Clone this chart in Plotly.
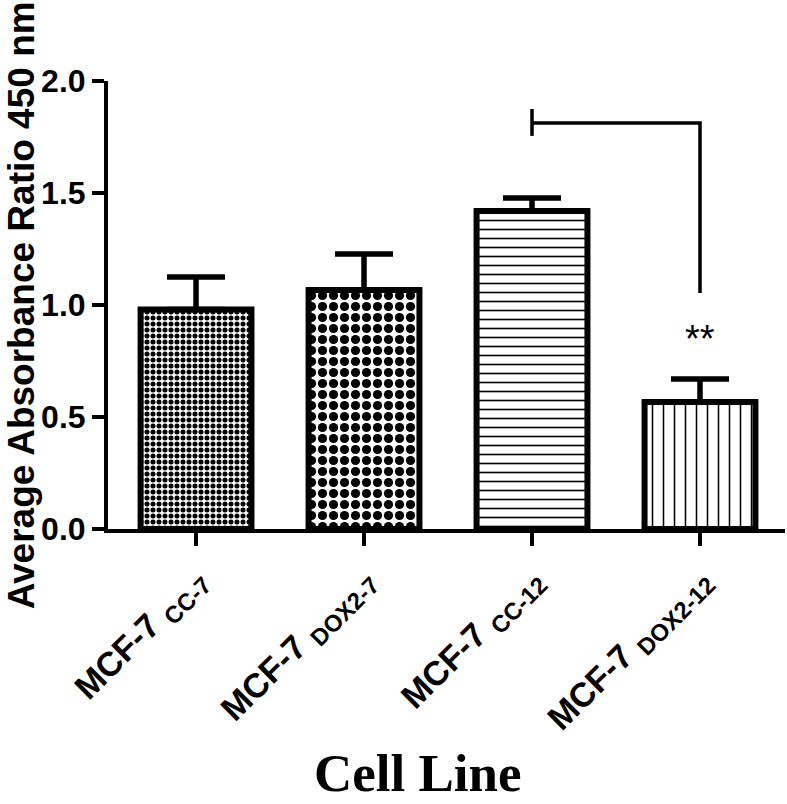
import plotly.graph_objects as go

# valores
lineas = ["CC-7", "DOX2-7", "CC-12", "DOX2-12"]
absorbancia = [0.98, 1.067, 1.42, 0.567]
error_sup = [0.145, 0.161, 0.058, 0.103]
etiquetas = ["MCF-7 <sub>CC-7</sub>", "MCF-7 <sub>DOX2-7</sub>",
             "MCF-7 <sub>CC-12</sub>", "MCF-7 <sub>DOX2-12</sub>"]
patrones = [".", ".", "-", "|"]
tam_patron = [6, 11, 9, 11]
solidez = [0.55, 0.55, 0.18, 0.14]

# corchete de significancia
corchete_x = ["CC-12", "CC-12", None, "CC-12", "DOX2-12", "DOX2-12"]
corchete_y = [1.875, 1.755, None, 1.8125, 1.8125, 1.054]
estrellas_y = 0.85

fig = go.Figure()
fig.add_trace(go.Bar(
    x=lineas, y=absorbancia, width=0.66,
    marker=dict(color="white", line=dict(color="black", width=6),
                pattern=dict(shape=patrones, size=tam_patron, solidity=solidez,
                             fgcolor="black", bgcolor="white", fgopacity=1,
                             fillmode="replace")),
    error_y=dict(type="data", symmetric=False, array=error_sup,
                 arrayminus=[0] * 4, color="black", thickness=5.5, width=29),
    showlegend=False))

fig.add_trace(go.Scatter(x=corchete_x, y=corchete_y, mode="lines",
                         line=dict(color="black", width=3.5), showlegend=False))

fig.add_annotation(x="DOX2-12", y=estrellas_y, text="**", showarrow=False,
                   font=dict(size=38, color="black", family="Liberation Sans"))

fig.add_annotation(xref="paper", yref="paper", x=-0.128, y=0.5,
                   text="<b>Average Absorbance Ratio 450 nm</b>", textangle=-90,
                   showarrow=False, xanchor="center", yanchor="middle",
                   font=dict(size=37, color="black", family="Liberation Sans"))

fig.add_annotation(xref="paper", yref="paper", x=0.458, y=-0.612,
                   text="<b>Cell Line</b>", showarrow=False,
                   xanchor="center", yanchor="bottom", borderpad=0,
                   font=dict(size=53, color="black", family="Liberation Serif"))

fig.update_layout(
    width=787, height=804,
    margin=dict(l=108, r=2, t=81, b=275),
    plot_bgcolor="white", paper_bgcolor="white",
    font=dict(family="Liberation Sans", color="black"),
)
fig.update_xaxes(range=[-0.524, 3.506], tickvals=lineas, ticktext=etiquetas,
                 tickangle=-45, tickfont=dict(size=34, weight="bold"), automargin=False,
                 showline=True, linecolor="black", linewidth=4,
                 ticks="outside", ticklen=13, tickwidth=3.5, tickcolor="black",
                 showgrid=False, zeroline=False)
fig.update_yaxes(range=[0, 2.0], tickvals=[0, 0.5, 1.0, 1.5, 2.0],
                 ticktext=["0.0", "0.5", "1.0", "1.5", "2.0"],
                 tickfont=dict(size=32, weight="bold"), automargin=False,
                 showline=True, linecolor="black", linewidth=4,
                 ticks="outside", ticklen=12, tickwidth=3.5, tickcolor="black",
                 showgrid=False, zeroline=False)

# quitar el margen del body para que la figura quede en (0, 0)
fig.write_html("out.html", config={"displayModeBar": False},
               post_script="document.body.style.margin='0';")
